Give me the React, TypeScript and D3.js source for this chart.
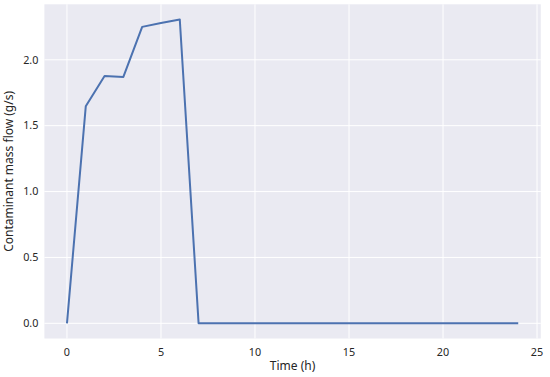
import React from "react";
import * as d3 from "d3";

const hours = [0, 1, 2, 3, 4, 5, 6, 7, 8, 9, 10, 11, 12, 13, 14, 15, 16, 17, 18, 19, 20, 21, 22, 23, 24];
const massFlow = [0, 1.647, 1.877, 1.87, 2.25, 2.28, 2.306, 0, 0, 0, 0, 0, 0, 0, 0, 0, 0, 0, 0, 0, 0, 0, 0, 0, 0];
const xTicks = [0, 5, 10, 15, 20, 25];
const yTicks = [0, 0.5, 1.0, 1.5, 2.0];

const W = 550, H = 377;
const left = 44.4, right = 540.8, top = 4.3, bottom = 338.5;

export default function App() {
  const xmin = -1.2, xmax = 25.2;
  const ymax = 2.306, ymargin = ymax * 0.05;
  const x = d3.scaleLinear().domain([xmin, xmax]).range([left, right]);
  const y = d3.scaleLinear().domain([-ymargin, ymax + ymargin]).range([bottom, top]);
  const line = d3.line<number>().x((_, i) => x(hours[i])).y((d) => y(d));
  const font = "'Noto Sans', 'DejaVu Sans', sans-serif";
  return (
    <svg width={W} height={H} style={{ position: "absolute", left: 0, top: 0 }} fontFamily={font}>
      <rect x={0} y={0} width={W} height={H} fill="#ffffff" />
      <rect x={left} y={top} width={right - left} height={bottom - top} fill="#EAEAF2" />
      {xTicks.map((t) => (
        <line key={"gx" + t} x1={x(t)} x2={x(t)} y1={top} y2={bottom} stroke="#fff" strokeWidth={1} />
      ))}
      {yTicks.map((t) => (
        <line key={"gy" + t} x1={left} x2={right} y1={y(t)} y2={y(t)} stroke="#fff" strokeWidth={1} />
      ))}
      <path d={line(massFlow) || ""} fill="none" stroke="#4C72B0" strokeWidth={2} strokeLinejoin="round" />
      {xTicks.map((t) => (
        <text key={"tx" + t} x={x(t)} y={bottom + 17} textAnchor="middle" fontSize={10.8} fill="#262626">
          {t}
        </text>
      ))}
      {yTicks.map((t) => (
        <text key={"ty" + t} x={left - 6} y={y(t)} dy="0.35em" textAnchor="end" fontSize={10.8} fill="#262626">
          {t.toFixed(1)}
        </text>
      ))}
      <text x={(left + right) / 2} y={370} textAnchor="middle" fontSize={12} fill="#262626">
        Time (h)
      </text>
      <text transform={`translate(13, ${(top + bottom) / 2}) rotate(-90)`} textAnchor="middle" fontSize={12} fill="#262626">
        Contaminant mass flow (g/s)
      </text>
    </svg>
  );
}
